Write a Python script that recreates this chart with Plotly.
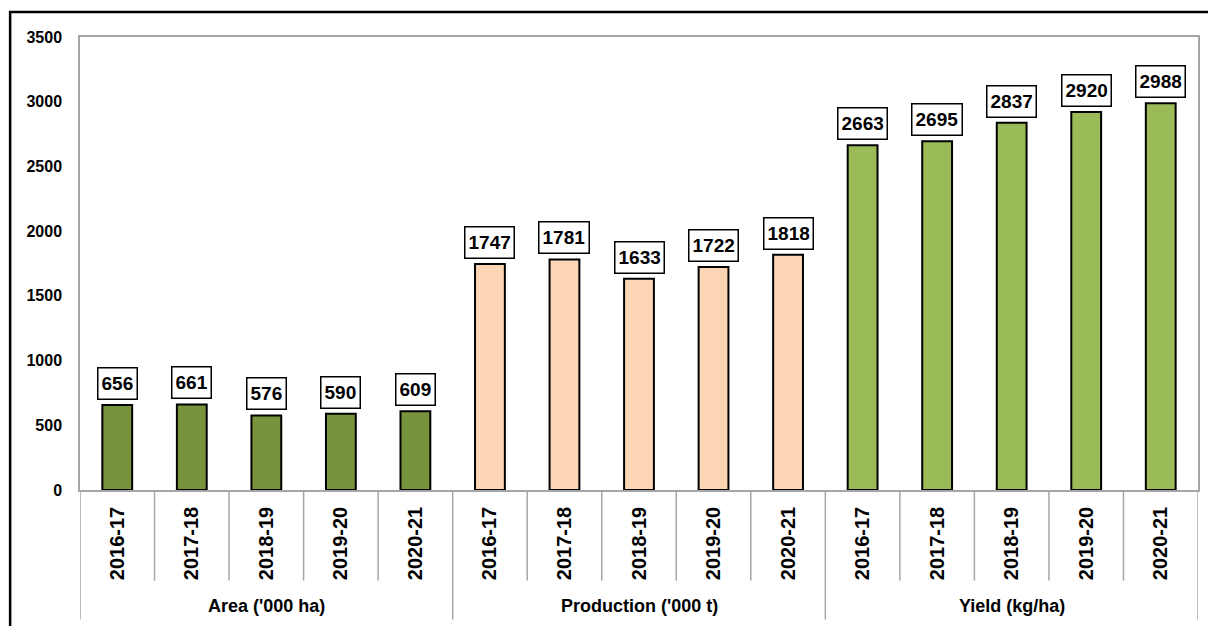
import plotly.graph_objects as go

groups = ["Area ('000 ha)", "Production ('000 t)", "Yield (kg/ha)"]
years = ["2016-17", "2017-18", "2018-19", "2019-20", "2020-21"]
area = [656, 661, 576, 590, 609]
production = [1747, 1781, 1633, 1722, 1818]
yield_ = [2663, 2695, 2837, 2920, 2988]
series = [area, production, yield_]
colors = ["#77933C", "#FCD5B5", "#9BBB59"]
yticks = [0, 500, 1000, 1500, 2000, 2500, 3000, 3500]

FONT = "Liberation Sans, Arial, sans-serif"
n = len(years)
fig = go.Figure()
tickvals, ticktext = [], []
annotations = []
shapes = []
for g, (name, vals, col) in enumerate(zip(groups, series, colors)):
    xs = [g * n + i for i in range(n)]
    tickvals += xs
    ticktext += years
    fig.add_trace(go.Bar(x=xs, y=vals, name=name, marker=dict(color=col, line=dict(color="black", width=2)),
                         width=0.4, showlegend=False, hoverinfo="y"))
    for x, v in zip(xs, vals):
        annotations.append(dict(x=x, y=v, xref="x", yref="y", text=f"<b>{v}</b>", showarrow=False,
                                yanchor="bottom", yshift=5, bgcolor="white", bordercolor="black",
                                borderwidth=1.5, borderpad=3, height=24,
                                font=dict(size=19, color="black", family=FONT)))
    annotations.append(dict(x=g * n + (n - 1) / 2, y=-0.257, xref="x", yref="paper", text=f"<b>{name}</b>",
                            showarrow=False, yanchor="middle", font=dict(size=18, color="black", family=FONT)))

total = len(groups) * n
for k in range(total + 1):
    long_ = (k % n == 0)
    shapes.append(dict(type="line", xref="x", yref="paper", x0=k - 0.5, x1=k - 0.5, y0=0,
                       y1=-0.286 if long_ else -0.2,
                       line=dict(color="#A6A6A6", width=1.5)))

# outer chart border (top & left visible)
shapes.append(dict(type="rect", xref="paper", yref="paper", x0=-0.0625, x1=1.2, y0=-0.6, y1=1.0551,
                   line=dict(color="black", width=2.5)))

fig.update_layout(
    width=1208, height=626,
    margin=dict(l=80, r=8, t=37, b=136),
    plot_bgcolor="white", paper_bgcolor="white",
    bargap=0.6,
    annotations=annotations, shapes=shapes,
    font=dict(family=FONT, color="black"),
)
fig.update_xaxes(range=[-0.5, total - 0.5], tickvals=tickvals, ticktext=[f"<b>{t}</b>" for t in ticktext],
                 tickangle=-90, tickfont=dict(size=20, family=FONT, color="black"),
                 showline=True, linecolor="#A6A6A6", linewidth=1.5, mirror=True, showgrid=False,
                 zeroline=False, ticks="", ticklabelstandoff=7)
fig.update_yaxes(range=[0, 3500], tickvals=yticks, ticktext=[f"<b>{t}</b>" for t in yticks],
                 tickfont=dict(size=16, family=FONT, color="black"),
                 showline=True, linecolor="#A6A6A6", linewidth=1.5, mirror=True, showgrid=False,
                 zeroline=False, ticks="", ticklabelstandoff=13)

fig.write_html("out.html")
